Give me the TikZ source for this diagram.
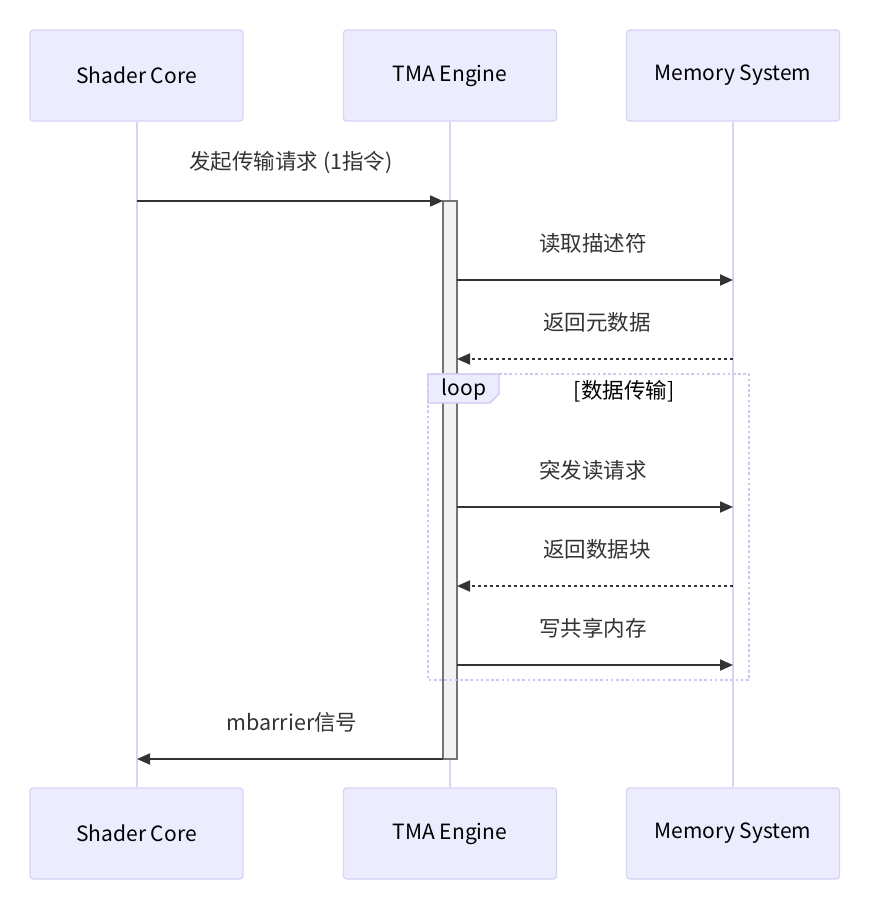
\documentclass[tikz,border=0pt]{standalone}
\usepackage{fontspec}
\setmainfont{Noto Sans CJK SC}
\usetikzlibrary{arrows.meta}
\definecolor{actfill}{HTML}{ECECFF}
\definecolor{actline}{HTML}{D8D2F5}
\definecolor{msg}{HTML}{333333}
\definecolor{loopline}{HTML}{CEC5F2}
\begin{document}
\begin{tikzpicture}[x=1pt,y=-1pt,
  actor/.style={draw=actline,fill=actfill,line width=1.2pt,rounded corners=3pt,minimum width=213pt,minimum height=91pt,inner sep=0pt,font=\fontsize{21}{24}\selectfont,text=black},
  life/.style={draw=actline,line width=2pt},
  msgline/.style={draw=msg,line width=1.8pt,-{Triangle[length=13pt,width=11pt]}},
  dashmsg/.style={msgline,dash pattern=on 3pt off 3pt},
  lbl/.style={font=\fontsize{21.5}{24}\selectfont,text=msg,inner sep=0pt},
  actbar/.style={draw=black!55,fill=black!5,line width=1.2pt}]
\useasboundingbox (0,0) rectangle (871,907);
% actors
\node[actor] (sc) at (136.5,75.5) {\raisebox{-2pt}{Shader Core}};
\node[actor] (tma) at (450,75.5) {\raisebox{-2pt}{TMA Engine}};
\node[actor] (mem) at (733,75.5) {\raisebox{-2pt}{Memory System}};
\node[actor] (scb) at (136.5,833.5) {\raisebox{-2pt}{Shader Core}};
\node[actor] (tmab) at (450,833.5) {\raisebox{-2pt}{TMA Engine}};
\node[actor] (memb) at (733,833.5) {\raisebox{-2pt}{Memory System}};
% lifelines
\draw[life] (sc.south) -- (scb.north);
\draw[life] (tma.south) -- (tmab.north);
\draw[life] (mem.south) -- (memb.north);
% activation bar
\node[actbar,minimum width=14pt,minimum height=558pt,inner sep=0pt] (bar) at (450,480) {};
% loop frame
\draw[loopline,line width=2.6pt,dash pattern=on 2.6pt off 2.6pt] (428,374) rectangle (749,680);
\draw[loopline,fill=actfill,line width=1.2pt] (428,374) -- (499,374) -- (499,394) -- (490,403) -- (428,403) -- cycle;
\node[font=\fontsize{21}{24}\selectfont,text=black,inner sep=0pt] (looplbl) at (464,390) {loop};
\node[font=\fontsize{21.5}{24}\selectfont,text=black,inner sep=0pt] (loopcond) at (624,391) {[数据传输]};
% message endpoints
\coordinate (m1a) at (137,201); \coordinate (m1b) at (443,201);
\coordinate (m2a) at (457,280); \coordinate (m2b) at (733,280);
\coordinate (m3a) at (733,359); \coordinate (m3b) at (457,359);
\coordinate (m4a) at (457,507); \coordinate (m4b) at (733,507);
\coordinate (m5a) at (733,586); \coordinate (m5b) at (457,586);
\coordinate (m6a) at (457,665); \coordinate (m6b) at (733,665);
\coordinate (m7a) at (443,759); \coordinate (m7b) at (137,759);
\draw[msgline] (m1a) -- (m1b);
\draw[msgline] (m2a) -- (m2b);
\draw[dashmsg] (m3a) -- (m3b);
\draw[msgline] (m4a) -- (m4b);
\draw[dashmsg] (m5a) -- (m5b);
\draw[msgline] (m6a) -- (m6b);
\draw[msgline] (m7a) -- (m7b);
% labels
\node[lbl] (l1) at (291,163) {发起传输请求 (1指令)};
\node[lbl] (l2) at (593,243) {读取描述符};
\node[lbl] (l3) at (597,322) {返回元数据};
\node[lbl] (l4) at (593,470) {突发读请求};
\node[lbl] (l5) at (597,549) {返回数据块};
\node[lbl] (l6) at (593,628) {写共享内存};
\node[lbl] (l7) at (292,722) {mbarrier信号};
\end{tikzpicture}
\end{document}
